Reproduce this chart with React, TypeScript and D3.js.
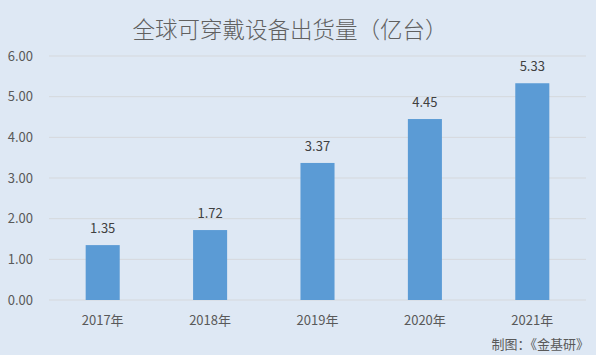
import React from "react";
import * as d3 from "d3";

const categories = ["2017年", "2018年", "2019年", "2020年", "2021年"];
const values = [1.35, 1.72, 3.37, 4.45, 5.33];
const yTicks = [0, 1, 2, 3, 4, 5, 6];
const title = "全球可穿戴设备出货量（亿台）";
const source = "制图：《金基研》";

const W = 596, H = 355;
const M = { left: 49, right: 10, top: 56, bottom: 55 };

export default function App() {
  const x = d3.scaleBand().domain(categories).range([M.left, W - M.right]).paddingInner(0.683).paddingOuter(0.3415);
  const y = d3.scaleLinear().domain([0, 6]).range([H - M.bottom, M.top]);
  const font = "'Noto Sans CJK SC', 'Noto Sans', sans-serif";
  const col = "#595959";
  return (
    <svg width={W} height={H} style={{ position: "absolute", left: 0, top: 0, display: "block" }} fontFamily={font}>
      <rect x={0} y={0} width={W} height={H} fill="#dee8f4" />
      <text x={290} y={38} textAnchor="middle" fontSize={22.5} fontWeight={300} fill="#606060">{title}</text>
      {yTicks.map((t) => (
        <g key={t}>
          <line x1={M.left} x2={W - M.right} y1={y(t)} y2={y(t)} stroke="#d5d8dc" strokeWidth={1} />
          <text x={33} y={y(t) + 4.5} textAnchor="end" fontSize={13} fill={col}>{d3.format(".2f")(t)}</text>
        </g>
      ))}
      {categories.map((c, i) => (
        <g key={c}>
          <rect x={x(c)} y={y(values[i])} width={x.bandwidth()} height={y(0) - y(values[i])} fill="#5b9bd5" />
          <text x={(x(c) as number) + x.bandwidth() / 2} y={y(values[i]) - 12} textAnchor="middle" fontSize={13} fill="#404040">{values[i].toFixed(2)}</text>
          <text x={(x(c) as number) + x.bandwidth() / 2} y={325} textAnchor="middle" fontSize={13} fill={col}>{c}</text>
        </g>
      ))}
      <text x={589} y={349} textAnchor="end" fontSize={13} fill={col}>{source}</text>
    </svg>
  );
}
